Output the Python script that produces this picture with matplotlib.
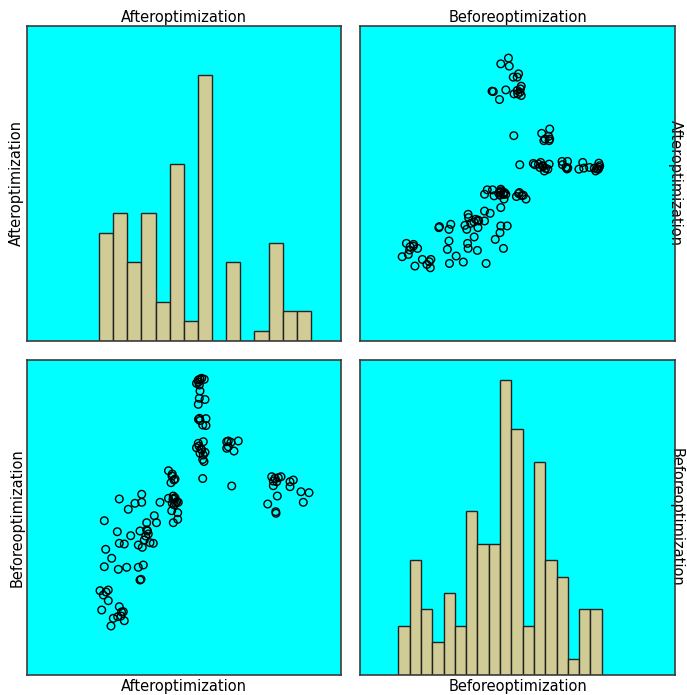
import matplotlib
matplotlib.use("Agg")
import matplotlib.pyplot as plt
import numpy as np

plt.rcParams['font.family'] = ['DejaVu Sans']

var_names = ["Afteroptimization", "Beforeoptimization"]

# scatter data (arbitrary units)
after = [
    54.55, 55.10, 55.64, 56.46, 53.98, 54.87, 55.10, 54.87, 56.69, 54.55,
    54.62, 54.94, 55.10, 57.01, 55.96, 57.01, 54.55, 56.15, 53.98, 55.64,
    56.69, 55.10, 56.15, 55.96, 56.37, 55.96, 55.41, 54.62, 54.78,
    63.60, 64.11, 64.97, 67.29, 63.60, 64.11, 65.92, 65.19,
    76.66, 77.93, 78.98, 80.03, 80.89, 78.44, 79.52, 78.44, 79.71, 79.20,
    79.30, 83.76, 84.81, 83.76, 87.26, 89.81, 87.99,
    45.06, 46.27, 47.13, 45.86, 45.06, 46.59, 47.13, 47.68, 46.27, 48.18,
    46.91, 42.36, 46.08, 47.99, 47.99, 46.59,
    46.50, 46.97, 47.29, 46.18, 46.82,
    36.53, 34.39, 36.53, 32.26, 29.39, 40.54, 41.24, 38.12, 24.62, 28.76,
    33.03, 35.99, 38.12, 38.63, 37.80, 37.36, 39.17, 40.22, 29.39, 30.99,
    35.45, 36.72, 25.06, 26.97, 24.62, 29.08, 31.75, 35.45, 37.04, 35.99,
    36.31, 23.25, 25.89, 24.30, 25.89, 23.79, 29.39, 30.67, 29.94, 28.89,
    27.48, 30.99, 26.75,
    25.16, 30.10, 38.38,
]
before = [
    75.65, 75.91, 76.08, 75.83, 74.82, 74.39, 72.87, 71.02, 70.72, 69.50,
    65.71, 65.96, 65.40, 65.88, 64.27, 64.14, 59.63, 60.04, 58.52, 57.94,
    57.36, 57.10, 56.67, 55.53, 55.03, 50.72, 58.19, 75.15, 58.95,
    60.04, 60.22, 59.89, 60.22, 58.37, 58.77, 57.68, 48.83,
    44.27, 51.18, 50.77, 50.93, 51.18, 50.09, 49.91, 48.90, 46.29, 42.32,
    41.92, 49.91, 50.34, 48.65, 47.38, 47.13, 44.70,
    52.70, 51.86, 50.60, 49.66, 45.71, 46.29, 45.86, 44.85, 44.45, 44.70,
    44.02, 44.70, 42.57, 42.07, 40.40, 39.54,
    45.54, 45.66, 44.52, 51.36, 50.34,
    46.73, 44.45, 44.70, 42.93, 45.54, 41.31, 39.54, 39.54, 40.04, 37.26,
    36.25, 37.44, 37.69, 36.68, 36.17, 35.16, 34.48, 34.32, 34.32, 34.15,
    33.89, 33.31, 32.80, 30.53, 28.40, 27.74, 28.25, 28.25, 28.83, 25.03,
    25.21, 22.33, 22.50, 21.24, 19.80, 17.44, 18.28, 17.01, 15.92, 15.75,
    15.34, 14.73, 13.39,
    22.00, 16.94, 37.44,
]

# histogram counts
after_counts = [11, 13, 8, 13, 4, 18, 2, 27, 0, 8, 0, 1, 10, 3, 3]
after_range = (22.93, 90.45)
before_counts = [3, 7, 4, 2, 5, 3, 10, 8, 8, 18, 15, 3, 13, 7, 6, 1, 4, 4]
before_range = (12.16, 76.73)

BG = "#00ffff"
BAR = "#d1cc95"
FRAME = "#3c3c3c"

W, H = 687, 695
fig = plt.figure(figsize=(W / 100, H / 100), dpi=100)

def add_ax(x0, y0, x1, y1):
    ax = fig.add_axes([x0 / W, (H - y1) / H, (x1 - x0) / W, (y1 - y0) / H])
    ax.set_facecolor(BG)
    ax.set_xticks([])
    ax.set_yticks([])
    for s in ax.spines.values():
        s.set_color(FRAME)
        s.set_linewidth(1.2)
    return ax

ax_tl = add_ax(27, 26, 341, 341)
ax_tr = add_ax(360, 26, 675, 341)
ax_bl = add_ax(27, 360, 341, 675)
ax_br = add_ax(360, 360, 675, 675)

def draw_hist(ax, counts, rng):
    edges = np.linspace(rng[0], rng[1], len(counts) + 1)
    widths = np.diff(edges)
    ax.bar(edges[:-1], counts, width=widths, align='edge', color=BAR,
           edgecolor='#222222', linewidth=1.0)

draw_hist(ax_tl, after_counts, after_range)
ax_tl.set_xlim(0, 100)
ax_tl.set_ylim(0, 32.0)

draw_hist(ax_br, before_counts, before_range)
ax_br.set_xlim(0, 100)
ax_br.set_ylim(0, 19.2)

ax_tr.scatter(before, after, s=30, facecolors='none', edgecolors='black', linewidths=1.0)
ax_tr.set_xlim(0, 100)
ax_tr.set_ylim(0, 100)

ax_bl.scatter(after, before, s=30, facecolors='none', edgecolors='black', linewidths=1.0)
ax_bl.set_xlim(0, 100)
ax_bl.set_ylim(0.99, 80.72)

fs = 10.5
ax_tl.set_title(var_names[0], fontsize=fs, pad=3)
ax_tr.set_title(var_names[1], fontsize=fs, pad=3)
ax_tl.set_ylabel(var_names[0], fontsize=fs, labelpad=2)
ax_bl.set_ylabel(var_names[1], fontsize=fs, labelpad=2)
ax_bl.set_xlabel(var_names[0], fontsize=fs, labelpad=3)
ax_br.set_xlabel(var_names[1], fontsize=fs, labelpad=3)
for ax, name in ((ax_tr, var_names[0]), (ax_br, var_names[1])):
    ax.yaxis.set_label_position('right')
    ax.set_ylabel(name, fontsize=fs, rotation=-90, labelpad=6)

fig.savefig("out.png", dpi=100)
